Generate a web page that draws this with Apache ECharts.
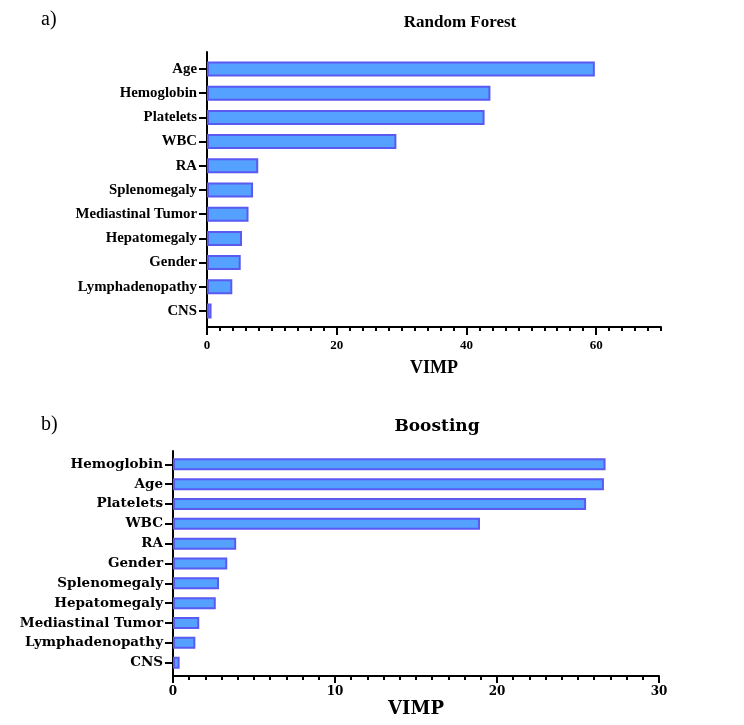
<!DOCTYPE html>
<html>
<head>
<meta charset="utf-8">
<script src="https://cdn.jsdelivr.net/npm/echarts@6/dist/echarts.min.js"></script>
<style>
html,body{margin:0;padding:0;background:#fff;}
#chart{width:744px;height:725px;}
</style>
</head>
<body>
<div id="chart"></div>
<script>
// Panel a) Random Forest
const rfCategories = ["Age","Hemoglobin","Platelets","WBC","RA","Splenomegaly","Mediastinal Tumor","Hepatomegaly","Gender","Lymphadenopathy","CNS"];
const rfValues = [59.8, 43.7, 42.8, 29.2, 7.9, 7.1, 6.4, 5.4, 5.2, 3.9, 0.7];
const rfTicks = [0, 20, 40, 60];

// Panel b) Boosting
const bCategories = ["Hemoglobin","Age","Platelets","WBC","RA","Gender","Splenomegaly","Hepatomegaly","Mediastinal Tumor","Lymphadenopathy","CNS"];
const bValues = [26.7, 26.6, 25.5, 18.95, 3.9, 3.35, 2.84, 2.64, 1.62, 1.38, 0.41];
const bTicks = [0, 10, 20, 30];

const serifA = '"Liberation Serif", "Times New Roman", serif';
const serifB = '"DejaVu Serif", serif';
const black = '#000';
const barStyle = { color: '#55A1FF', borderColor: '#5A5AF2', borderWidth: 2 };
const axisLineStyle = { color: black, width: 2 };

const chart = echarts.init(document.getElementById('chart'), null, { renderer: 'canvas' });

const option = {
  backgroundColor: '#fff',
  animation: false,
  title: [
    { text: 'a)', left: 36, top: 5, textStyle: { fontFamily: serifA, fontWeight: 'normal', fontSize: 20, color: black } },
    { text: 'Random Forest', left: 455, top: 9, textAlign: 'center', textStyle: { fontFamily: serifA, fontWeight: 'bold', fontSize: 17, color: black } },
    { text: 'b)', left: 36, top: 410, textStyle: { fontFamily: serifA, fontWeight: 'normal', fontSize: 20, color: black } },
    { text: 'Boosting', left: 432, top: 413, textAlign: 'center', textStyle: { fontFamily: serifB, fontWeight: 'bold', fontSize: 17, color: black } }
  ],
  grid: [
    // 0: frame a (axis lines + x ticks)
    { left: 207, right: 83, top: 52, height: 275 },
    // 1: bars a
    { left: 207, right: 83, top: 56.9, height: 266.2 },
    // 2: frame b
    { left: 173, right: 85, top: 451, height: 225 },
    // 3: bars b
    { left: 173, right: 85, top: 454.4, height: 218.2 }
  ],
  xAxis: [
    // 0: a minor ticks + line
    { type: 'value', gridIndex: 0, position: 'bottom', min: 0, max: 70, interval: 2,
      axisLine: { show: true, lineStyle: axisLineStyle },
      axisTick: { show: true, length: 4, lineStyle: axisLineStyle },
      axisLabel: { show: false }, splitLine: { show: false } },
    // 1: a major ticks + labels + name
    { type: 'value', gridIndex: 0, position: 'bottom', min: 0, max: 70, interval: 20,
      axisLine: { show: false },
      axisTick: { show: true, length: 8, customValues: rfTicks, lineStyle: axisLineStyle },
      axisLabel: { show: true, customValues: rfTicks, margin: 12, fontFamily: serifA, fontWeight: 'bold', fontSize: 13, color: black },
      splitLine: { show: false },
      name: 'VIMP', nameLocation: 'middle', nameGap: 32,
      nameTextStyle: { fontFamily: serifA, fontWeight: 'bold', fontSize: 18, color: black } },
    // 2: a bars (hidden)
    { type: 'value', gridIndex: 1, min: 0, max: 70, show: false },
    // 3: b minor ticks + line
    { type: 'value', gridIndex: 2, position: 'bottom', min: 0, max: 30, interval: 1,
      axisLine: { show: true, lineStyle: axisLineStyle },
      axisTick: { show: true, length: 4, lineStyle: axisLineStyle },
      axisLabel: { show: false }, splitLine: { show: false } },
    // 4: b major ticks + labels + name
    { type: 'value', gridIndex: 2, position: 'bottom', min: 0, max: 30, interval: 10,
      axisLine: { show: false },
      axisTick: { show: true, length: 7, customValues: bTicks, lineStyle: axisLineStyle },
      axisLabel: { show: true, customValues: bTicks, margin: 10, fontFamily: serifB, fontWeight: 'bold', fontSize: 12, color: black },
      splitLine: { show: false },
      name: 'VIMP', nameLocation: 'middle', nameGap: 24,
      nameTextStyle: { fontFamily: serifB, fontWeight: 'bold', fontSize: 18, color: black } },
    // 5: b bars (hidden)
    { type: 'value', gridIndex: 3, min: 0, max: 30, show: false }
  ],
  yAxis: [
    // 0: a frame line
    { type: 'value', gridIndex: 0, min: 0, max: 1,
      axisLine: { show: true, lineStyle: axisLineStyle },
      axisTick: { show: false }, axisLabel: { show: false }, splitLine: { show: false } },
    // 1: a categories
    { type: 'category', gridIndex: 1, data: rfCategories, inverse: true,
      axisLine: { show: false },
      axisTick: { show: true, length: 8, alignWithLabel: true, lineStyle: axisLineStyle },
      axisLabel: { margin: 10, fontFamily: serifA, fontWeight: 'bold', fontSize: 14.8, color: black },
      splitLine: { show: false } },
    // 2: b frame line
    { type: 'value', gridIndex: 2, min: 0, max: 1,
      axisLine: { show: true, lineStyle: axisLineStyle },
      axisTick: { show: false }, axisLabel: { show: false }, splitLine: { show: false } },
    // 3: b categories
    { type: 'category', gridIndex: 3, data: bCategories, inverse: true,
      axisLine: { show: false },
      axisTick: { show: true, length: 8, alignWithLabel: true, lineStyle: axisLineStyle },
      axisLabel: { margin: 10, fontFamily: serifB, fontWeight: 'bold', fontSize: 13.5, color: black },
      splitLine: { show: false } }
  ],
  series: [
    { type: 'bar', name: 'Random Forest', xAxisIndex: 2, yAxisIndex: 1, data: rfValues, barWidth: 15, itemStyle: barStyle, silent: true },
    { type: 'bar', name: 'Boosting', xAxisIndex: 5, yAxisIndex: 3, data: bValues, barWidth: 12, itemStyle: barStyle, silent: true }
  ]
};
chart.setOption(option);
</script>
</body>
</html>
